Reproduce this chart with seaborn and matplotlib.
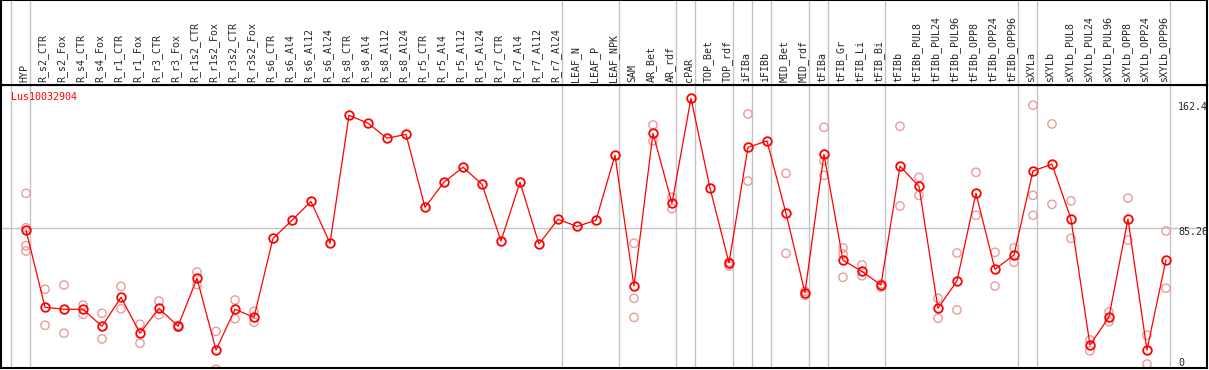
import numpy as np
import pandas as pd
import matplotlib
matplotlib.use("Agg")
import matplotlib.pyplot as plt
import seaborn as sns

# sample names along the x axis
samples = ["HYP", "R_s2_CTR", "R_s2_Fox", "R_s4_CTR", "R_s4_Fox", "R_r1_CTR", "R_r1_Fox",
           "R_r3_CTR", "R_r3_Fox", "R_r1s2_CTR", "R_r1s2_Fox", "R_r3s2_CTR", "R_r3s2_Fox",
           "R_s6_CTR", "R_s6_Al4", "R_s6_Al12", "R_s6_Al24", "R_s8_CTR", "R_s8_Al4",
           "R_s8_Al12", "R_s8_Al24", "R_r5_CTR", "R_r5_Al4", "R_r5_Al12", "R_r5_Al24",
           "R_r7_CTR", "R_r7_Al4", "R_r7_Al12", "R_r7_Al24", "LEAF_N", "LEAF_P", "LEAF_NPK",
           "SAM", "AR_Bet", "AR_rdf", "cPAR", "TOP_Bet", "TOP_rdf", "iFIBa", "iFIBb",
           "MID_Bet", "MID_rdf", "tFIBa", "tFIB_Gr", "tFIB_Li", "tFIB_Bi", "tFIBb",
           "tFIBb_PUL8", "tFIBb_PUL24", "tFIBb_PUL96", "tFIBb_OPP8", "tFIBb_OPP24",
           "tFIBb_OPP96", "sXYLa", "sXYLb", "sXYLb_PUL8", "sXYLb_PUL24", "sXYLb_PUL96",
           "sXYLb_OPP8", "sXYLb_OPP24", "sXYLb_OPP96"]

# mean expression per sample
means = [84.2, 38.4, 37.2, 37.2, 27.1, 44.3, 23.0, 37.8, 27.1, 55.6, 13.0, 37.2, 32.4,
         79.3, 90.0, 101.2, 76.4, 152.3, 147.6, 138.7, 141.0, 97.7, 112.6, 121.5, 111.4,
         77.7, 112.6, 75.9, 90.6, 86.4, 90.0, 128.6,
         51.0, 141.6, 100.1, 162.4, 109.2, 64.7, 133.3, 137.1, 94.2, 47.0,
         129.2, 66.3, 59.7, 51.6, 122.1, 110.2, 37.8, 54.0, 106.0, 60.9, 69.4,
         119.3, 123.3, 90.8, 16.0, 32.6, 90.8, 13.0, 66.5]

# individual replicates (empty where only a single value exists)
replicates = [[106.0, 85.6, 74.9, 71.8], [49.1, 27.7], [51.6, 23.0], [39.7, 34.2],
              [34.8, 19.6], [50.8, 37.5], [28.3, 17.0], [42.1, 34.0], [27.7, 26.5],
              [59.3, 51.8], [24.1, 1.6], [42.7, 31.6], [36.0, 29.5],
              [], [], [], [], [], [], [], [], [], [], [], [], [], [], [], [], [], [], [],
              [76.4, 43.7, 32.4], [146.6, 137.1], [103.7, 96.9], [], [], [65.3, 62.9],
              [153.1, 113.3], [], [117.9, 70.4], [47.9, 45.5],
              [145.2, 125.2, 116.7], [73.6, 70.0, 56.2], [63.5, 57.1], [52.2, 50.3],
              [145.8, 98.5], [115.5, 104.8], [43.7, 31.9], [70.6, 36.8], [118.5, 93.0],
              [71.0, 51.0], [73.6, 65.1],
              [158.3, 104.8, 93.0], [147.2, 99.5], [101.5, 79.3], [19.0, 12.6],
              [35.6, 29.8], [103.2, 78.3], [21.9, 4.7], [83.7, 49.7]]

# vertical separators are drawn just after these sample indices
separators_after = [-1, 0, 28, 31, 34, 35, 37, 38, 39, 41, 42, 45, 52, 53, 60]
y_ticks = [162.4, 85.26, 0]
gene = "Lus10032904"

sns.set_style("white")
plt.rcParams["font.family"] = ["DejaVu Sans Mono", "DejaVu Sans"]

pos = np.arange(len(samples))
means_df = pd.DataFrame({"pos": pos, "value": means})
reps_df = pd.DataFrame([(i, v) for i, vals in enumerate(replicates) for v in vals],
                       columns=["pos", "value"])

W, H = 1209, 370
fig = plt.figure(figsize=(W / 100, H / 100), dpi=100)
ax = fig.add_axes([1 / W, (H - 368) / H, 1206 / W, 283 / H])
head = fig.add_axes([1 / W, (H - 85) / H, 1206 / W, 85 / H])

xlim = (-1.316, 62.16)
grey = "#c4c4c4"

for a in (ax, head):
    a.set_xlim(*xlim)
    a.set_xticks([])
    a.set_yticks([])
    for s in a.spines.values():
        s.set_color("black")
        s.set_linewidth(1.5)
    for k in separators_after:
        a.axvline(k + 0.23, color=grey, lw=1.0, zorder=0)

ax.set_ylim(2.35, 170.3)
ax.axhline(85.26, color=grey, lw=1.0, zorder=0)

sns.scatterplot(data=reps_df, x="pos", y="value", ax=ax, s=36, marker="o",
                facecolor="none", edgecolor="#eb9a9a", linewidth=1.0, zorder=2)
sns.lineplot(data=means_df, x="pos", y="value", ax=ax, color="red", lw=0.9,
             marker="o", markersize=6.2, markerfacecolor="none",
             markeredgecolor="red", markeredgewidth=1.3, zorder=3)
ax.set_xlabel("")
ax.set_ylabel("")
ax.set_xlim(*xlim)

ax.text(10 / 1206, 1 - 7 / 283, gene, transform=ax.transAxes, color="red",
        fontsize=7.2, ha="left", va="top")

# y values printed inside the right edge
offsets = [-9, -4, 9]
for v, dy in zip(y_ticks, offsets):
    ax.annotate(f"{v:g}", xy=(1, v), xycoords=("axes fraction", "data"),
                xytext=(-29, dy), textcoords="offset pixels", fontsize=7.2,
                ha="left", va="center", annotation_clip=False)

for i, name in enumerate(samples):
    head.text(i - 0.1, 0.03, name, rotation=90, ha="center", va="bottom",
              fontsize=7.2, transform=head.get_xaxis_transform())

fig.savefig("out.png", dpi=100)
